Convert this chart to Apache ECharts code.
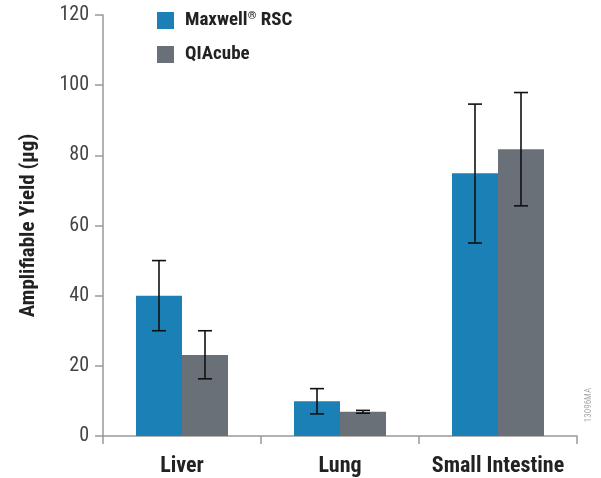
<!DOCTYPE html>
<html><head><meta charset="utf-8">
<script src="https://cdn.jsdelivr.net/npm/echarts@6/dist/echarts.min.js"></script>
<style>html,body{margin:0;padding:0;background:#fff}#c{width:601px;height:478px}</style>
</head><body><div id="c"></div>
<script>
const categories = ['Liver', 'Lung', 'Small Intestine'];
const seriesNames = ['Maxwell® RSC', 'QIAcube'];
const maxwellValues = [40, 9.9, 74.9];
const maxwellLow = [30, 6.3, 55];
const maxwellHigh = [50, 13.5, 94.6];
const qiacubeValues = [23.1, 6.9, 81.7];
const qiacubeLow = [16.3, 6.5, 65.6];
const qiacubeHigh = [30, 7.3, 97.9];
const yTicks = [0, 20, 40, 60, 80, 100, 120];

const FONT = "'Liberation Sans Narrow', 'Roboto Condensed', 'Liberation Sans', sans-serif";
const BAR_W = 46;
const colors = ['#1b80b5', '#6a7077'];

function errData(low, high) { return categories.map((c, i) => [i, low[i], high[i]]); }
function errRender(offset) {
  return function (params, api) {
    const i = api.value(0);
    const lo = api.coord([i, api.value(1)]);
    const hi = api.coord([i, api.value(2)]);
    const x = lo[0] + offset;
    const cap = 7;
    const style = { stroke: '#111', lineWidth: 1.6 };
    return { type: 'group', children: [
      { type: 'line', shape: { x1: x, y1: lo[1], x2: x, y2: hi[1] }, style },
      { type: 'line', shape: { x1: x - cap, y1: lo[1], x2: x + cap, y2: lo[1] }, style },
      { type: 'line', shape: { x1: x - cap, y1: hi[1], x2: x + cap, y2: hi[1] }, style }
    ]};
  };
}

const chart = echarts.init(document.getElementById('c'), null, { renderer: 'canvas' });
chart.setOption({
  animation: false,
  backgroundColor: '#fff',
  grid: { left: 103, right: 24, top: 15, bottom: 42, containLabel: false },
  legend: {
    orient: 'vertical', left: 157, top: 11, padding: 0,
    itemWidth: 17, itemHeight: 17, itemGap: 15,
    data: seriesNames,
    icon: 'rect',
    formatter: n => n.replace('®', '{sup|®}'),
    textStyle: { fontFamily: FONT, fontWeight: 'bold', fontSize: 19, color: '#222', padding: [0, 0, 0, 6],
      rich: { sup: { fontFamily: FONT, fontSize: 11, fontWeight: 'bold', color: '#222', verticalAlign: 'top', padding: [0, 0, 8, 0] } } }
  },
  xAxis: {
    type: 'category', data: categories,
    axisLine: { lineStyle: { color: '#999', width: 1.5 } },
    axisTick: { show: true, length: 8, lineStyle: { color: '#999', width: 1.5 } },
    axisLabel: { interval: 0, hideOverlap: false, margin: 19, fontFamily: FONT, fontWeight: 'bold', fontSize: 22, color: '#222' }
  },
  yAxis: {
    type: 'value', min: 0, max: 120, interval: 20,
    name: 'Amplifiable Yield (µg)', nameLocation: 'middle', nameGap: 64,
    nameTextStyle: { fontFamily: FONT, fontWeight: 'bold', fontSize: 21, color: '#222' },
    axisLine: { show: true, lineStyle: { color: '#999', width: 1.5 } },
    axisTick: { show: true, length: 8, lineStyle: { color: '#999', width: 1.5 } },
    splitLine: { show: false },
    axisLabel: { margin: 14, fontFamily: FONT, fontSize: 20, color: '#444',
      formatter: v => yTicks.includes(v) ? String(v) : '' }
  },
  graphic: [{
    type: 'text', x: 589, y: 405, rotation: Math.PI / 2,
    style: { text: '13096MA', fontFamily: FONT, fontSize: 9, fill: '#aaa', align: 'center', verticalAlign: 'middle' }
  }],
  series: [
    { name: seriesNames[0], type: 'bar', data: maxwellValues, barWidth: BAR_W, barGap: '0%', itemStyle: { color: colors[0] } },
    { name: seriesNames[1], type: 'bar', data: qiacubeValues, barWidth: BAR_W, barGap: '0%', itemStyle: { color: colors[1] } },
    { type: 'custom', data: errData(maxwellLow, maxwellHigh), renderItem: errRender(-BAR_W / 2), encode: { x: 0, y: [1, 2] }, z: 10, silent: true },
    { type: 'custom', data: errData(qiacubeLow, qiacubeHigh), renderItem: errRender(BAR_W / 2), encode: { x: 0, y: [1, 2] }, z: 10, silent: true }
  ]
});
</script></body></html>
